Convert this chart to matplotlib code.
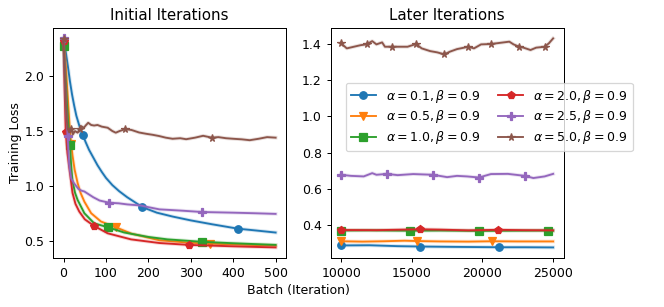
import matplotlib
matplotlib.use('Agg')
import matplotlib.pyplot as plt

# labels for the six runs (tab10 colour order)
labels = [r'$\alpha=0.1, \beta=0.9$', r'$\alpha=0.5, \beta=0.9$', r'$\alpha=1.0, \beta=0.9$',
          r'$\alpha=2.0, \beta=0.9$', r'$\alpha=2.5, \beta=0.9$', r'$\alpha=5.0, \beta=0.9$']
markers = ['o', 'v', 's', 'p', 'P', '*']

# ---- initial iterations ----
blue_x0 = [0, 5, 10, 15, 20, 25, 30, 37, 45, 52, 60, 70, 80, 90, 100, 115, 131, 150, 170, 186,
           220, 257, 300, 350, 411, 450, 500]
blue_y0 = [2.30, 2.22, 2.09, 1.95, 1.83, 1.73, 1.64, 1.55, 1.466, 1.40, 1.33, 1.26, 1.19, 1.13,
           1.075, 1.01, 0.955, 0.90, 0.85, 0.81, 0.76, 0.725, 0.69, 0.655, 0.615, 0.60, 0.58]
orange_x0 = [0, 5, 10, 15, 18, 21, 26, 33, 40, 49, 65, 88, 123, 160, 226, 300, 346, 400, 500]
orange_y0 = [2.30, 2.10, 1.80, 1.50, 1.38, 1.28, 1.15, 1.03, 0.94, 0.86, 0.755, 0.68, 0.628, 0.57,
             0.51, 0.487, 0.48, 0.472, 0.462]
green_x0 = [0, 5, 10, 15, 18, 21, 27, 33, 49, 72, 104, 143, 200, 245, 327, 400, 500]
green_y0 = [2.27, 1.95, 1.62, 1.375, 1.18, 1.05, 0.94, 0.876, 0.755, 0.664, 0.628, 0.58, 0.54,
            0.518, 0.496, 0.483, 0.468]
red_x0 = [0, 2, 5, 9, 13, 21, 28, 37, 50, 71, 104, 159, 226, 295, 400, 500]
red_y0 = [2.32, 1.95, 1.49, 1.30, 1.18, 0.94, 0.84, 0.77, 0.70, 0.642, 0.573, 0.518, 0.485, 0.468,
          0.455, 0.445]
purple_x0 = [0, 3, 6, 9.5, 13, 18, 24, 35, 42, 49, 70, 85, 108, 130, 150, 182, 200, 226, 258, 280,
             327, 400, 450, 500]
purple_y0 = [2.34, 2.00, 1.70, 1.457, 1.20, 1.07, 1.03, 0.975, 0.96, 0.952, 0.90, 0.87, 0.85, 0.845,
             0.835, 0.825, 0.81, 0.79, 0.783, 0.778, 0.766, 0.76, 0.755, 0.749]
brown_x0 = [0, 3, 6, 9, 13, 17, 22, 27, 33, 38, 41, 48, 52, 58, 65, 72, 80, 90, 104, 115, 123, 132,
            145, 160, 178, 195, 210, 225, 241, 257, 275, 289, 310, 329, 350, 365, 383, 400, 420,
            439, 460, 480, 500]
brown_y0 = [2.33, 2.00, 1.70, 1.53, 1.49, 1.52, 1.47, 1.50, 1.485, 1.52, 1.545, 1.53, 1.55, 1.575,
            1.555, 1.55, 1.555, 1.54, 1.53, 1.50, 1.485, 1.50, 1.517, 1.51, 1.487, 1.475, 1.466,
            1.455, 1.44, 1.43, 1.435, 1.426, 1.44, 1.457, 1.44, 1.445, 1.435, 1.43, 1.425, 1.417,
            1.43, 1.445, 1.44]
marks0 = [[0, 45, 186, 411], [0, 18, 123, 346], [0, 15, 104, 327],
          [0, 5, 71, 295], [0, 9.5, 108, 327], [0, 17, 38, 145, 350]]

# ---- later iterations ----
blue_x1 = [10000, 12000, 14000, 15600, 18000, 21200, 23000, 25000]
blue_y1 = [0.289, 0.290, 0.285, 0.283, 0.281, 0.279, 0.279, 0.278]
orange_x1 = [10000, 11500, 13000, 14500, 15400, 17000, 19000, 20700, 22500, 25000]
orange_y1 = [0.312, 0.310, 0.312, 0.315, 0.313, 0.311, 0.310, 0.312, 0.311, 0.311]
green_x1 = [10000, 12000, 14850, 17000, 19750, 22000, 24650, 25000]
green_y1 = [0.371, 0.372, 0.370, 0.371, 0.369, 0.370, 0.371, 0.370]
red_x1 = [10000, 12500, 15550, 17000, 19000, 21100, 23000, 25000]
red_y1 = [0.374, 0.373, 0.378, 0.376, 0.372, 0.375, 0.373, 0.372]
purple_x1 = [10000, 10700, 11600, 12200, 12500, 13250, 14000, 15100, 16500, 17500, 18200, 18900,
             19750, 20600, 21800, 23000, 23600, 24400, 25000]
purple_y1 = [0.678, 0.672, 0.669, 0.687, 0.678, 0.683, 0.676, 0.682, 0.678, 0.665, 0.672, 0.669,
             0.663, 0.682, 0.683, 0.672, 0.660, 0.669, 0.683]
brown_x1 = [10000, 10400, 10900, 11400, 11800, 12200, 12500, 12900, 13100, 13600, 14000, 14700,
            15300, 15700, 16300, 16800, 17300, 17700, 18200, 18700, 19000, 19400, 19900, 20600,
            21000, 21900, 22200, 22600, 22900, 23400, 23800, 24400, 24700, 25000]
brown_y1 = [1.402, 1.374, 1.383, 1.392, 1.396, 1.414, 1.396, 1.407, 1.383, 1.383, 1.383, 1.383,
            1.398, 1.374, 1.359, 1.352, 1.341, 1.356, 1.370, 1.378, 1.383, 1.374, 1.396, 1.398,
            1.402, 1.411, 1.396, 1.383, 1.378, 1.365, 1.378, 1.383, 1.402, 1.429]
marks1 = [[10000, 15600, 21200], [10000, 15400, 20700], [10000, 14850, 19750, 24650],
          [10000, 15550, 21100], [10000, 13250, 16500, 19750, 23000],
          [10000, 11800, 13600, 15300, 17300, 19000, 20600, 22600, 24400]]

early = [(blue_x0, blue_y0), (orange_x0, orange_y0), (green_x0, green_y0),
         (red_x0, red_y0), (purple_x0, purple_y0), (brown_x0, brown_y0)]
late = [(blue_x1, blue_y1), (orange_x1, orange_y1), (green_x1, green_y1),
        (red_x1, red_y1), (purple_x1, purple_y1), (brown_x1, brown_y1)]
colors = ['C0', 'C1', 'C2', 'C3', 'C4', 'C5']

fig, (ax1, ax2) = plt.subplots(1, 2, figsize=(664 / 90, 307 / 90), dpi=90)
fig.subplots_adjust(left=0.0798, right=0.849, bottom=0.160, top=0.909, wspace=0.19)

for ax, series, marks in [(ax1, early, marks0), (ax2, late, marks1)]:
    for (x, y), m, mk, c, lab in zip(series, markers, marks, colors, labels):
        ax.plot(x, y, color=c, lw=3, alpha=0.18)
        ax.plot(x, y, color=c, lw=1.5, marker=m, markevery=[x.index(v) for v in mk], label=lab)

ax1.set_title('Initial Iterations')
ax2.set_title('Later Iterations')
ax1.set_ylabel('Training Loss', labelpad=2)
ax1.set_xticks([0, 100, 200, 300, 400, 500])
ax1.set_yticks([0.5, 1.0, 1.5, 2.0])
ax2.set_xticks([10000, 15000, 20000, 25000])
fig.text(0.45, 0.055, 'Batch (Iteration)', ha='center', va='center')

handles, labs = ax2.get_legend_handles_labels()
fig.legend(handles, labs, ncol=2, loc='center', bbox_to_anchor=(0.7365, 0.619),
           handlelength=2.0, columnspacing=1.5, handletextpad=0.8, labelspacing=0.3)

plt.savefig('out.png', dpi=90)
